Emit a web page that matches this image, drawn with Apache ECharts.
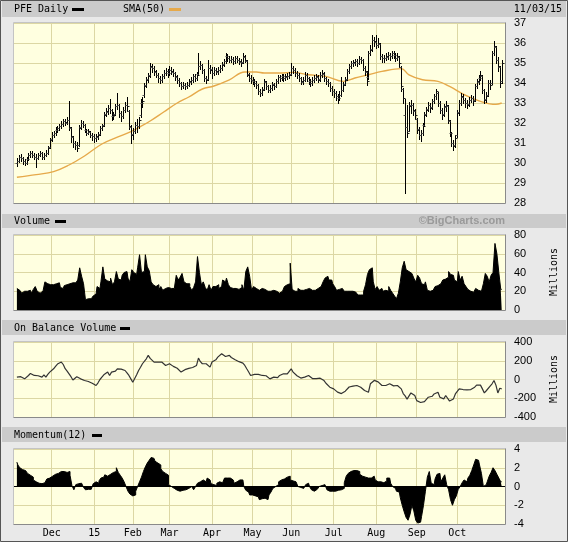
<!DOCTYPE html>
<html><head><meta charset="utf-8">
<script src="https://cdn.jsdelivr.net/npm/echarts@6/dist/echarts.min.js"></script>
<style>html,body{margin:0;padding:0;background:#e9e9e9}#c{width:568px;height:542px}</style>
</head><body><div id="c"></div>
<script>
// trading-day index 0 = 11/04/14 ... 251 = 11/03/15
const monthStarts = [18,40,60,79,101,122,142,164,186,207,228];
const monthLabels = ['Dec','15','Feb','Mar','Apr','May','Jun','Jul','Aug','Sep','Oct'];
const priceTicks = [28,37,1];
const volumeTicks = [0,80,20];
const obvTicks = [-400,400,200];
const momTicks = [-4,4,2];

const openP = [
30.00,30.10,30.30,30.25,30.10,30.00,30.20,30.40,30.50,30.40,30.30,30.25,30.40,30.50,30.30,30.40,30.50,30.80,
31.20,31.40,31.50,31.65,31.75,31.85,31.95,32.10,32.00,32.15,31.75,31.30,31.00,30.90,30.90,31.80,32.00,31.90,31.65,31.50,31.55,31.40,
31.35,31.25,31.30,31.45,31.75,31.90,32.45,32.55,32.75,32.65,32.35,32.45,32.85,32.90,32.50,32.35,32.65,32.90,32.60,31.80,
31.45,31.60,31.90,31.85,32.40,33.00,33.40,33.90,34.20,34.40,34.80,34.75,34.55,34.40,34.25,34.15,34.35,34.50,34.60,
34.50,34.65,34.55,34.50,34.30,34.15,34.00,33.85,33.90,33.85,33.90,34.05,34.15,34.35,34.25,34.45,34.85,34.90,34.65,34.25,34.20,34.75,
34.70,34.50,34.65,34.55,34.65,34.75,34.95,35.10,35.35,35.25,35.15,35.20,35.10,35.25,35.15,35.05,35.05,35.30,35.10,34.45,34.25,
34.15,34.10,34.00,33.90,33.60,33.50,33.70,34.05,33.85,33.65,33.75,33.95,33.85,34.10,34.30,34.25,34.35,34.25,34.30,34.35,
34.45,34.75,34.65,34.50,34.40,34.25,34.05,34.15,34.40,34.25,34.10,34.00,34.15,34.25,34.30,34.20,34.40,34.45,34.25,34.10,34.00,33.75,
33.60,33.50,33.35,33.25,33.40,33.65,33.95,34.20,34.60,34.85,35.00,35.00,35.10,35.00,35.20,35.15,34.75,34.55,34.30,35.50,35.70,36.15,
36.05,35.90,35.95,35.35,35.25,35.25,35.30,35.40,35.35,35.50,35.40,35.25,35.30,34.80,33.70,32.40,31.80,31.60,32.90,32.90,32.60,
32.20,31.70,31.40,31.50,31.90,32.45,32.70,32.90,32.80,33.10,33.35,33.50,33.00,32.65,32.45,32.80,32.85,32.10,31.50,31.00,30.90,
31.40,32.55,33.00,33.30,33.15,33.00,32.95,33.15,33.25,33.15,33.85,34.05,34.25,34.35,33.65,33.20,33.40,34.00,34.00,35.50,35.80,35.15,34.80,34.10];
const highP = [
30.25,30.40,30.45,30.30,30.20,30.30,30.50,30.60,30.60,30.50,30.45,30.50,30.60,30.55,30.50,30.65,30.85,31.25,
31.55,31.60,31.80,31.85,31.95,32.10,32.20,32.20,32.30,33.10,31.80,31.35,31.10,31.05,31.90,32.15,32.10,31.95,31.70,31.70,31.60,31.50,
31.45,31.45,31.55,31.85,31.95,32.55,32.75,32.90,33.20,32.70,32.55,32.95,33.50,32.95,32.60,32.80,33.05,33.30,32.65,31.90,
31.75,32.05,32.20,32.30,33.20,33.30,34.00,34.30,34.50,35.00,34.95,34.85,34.65,34.50,34.35,34.45,34.65,34.75,34.70,
34.85,34.80,34.70,34.55,34.40,34.25,34.05,34.05,34.00,34.05,34.20,34.30,34.45,34.45,34.55,35.50,35.10,34.95,34.70,34.35,35.15,34.90,
34.80,34.80,34.75,34.80,34.90,35.05,35.20,35.50,35.45,35.35,35.35,35.30,35.35,35.35,35.25,35.20,35.50,35.40,35.15,34.50,34.40,
34.30,34.20,34.10,33.95,33.70,33.80,34.20,34.10,33.90,33.90,34.05,34.00,34.20,34.40,34.40,34.45,34.45,34.45,34.50,34.55,
35.00,34.85,34.75,34.60,34.50,34.30,34.30,34.55,34.50,34.30,34.20,34.30,34.40,34.45,34.40,34.55,34.65,34.55,34.30,34.20,34.05,33.85,
33.70,33.60,33.45,33.60,34.30,34.05,34.30,34.70,34.95,35.10,35.15,35.20,35.20,35.35,35.30,35.20,34.85,34.60,35.60,35.90,36.40,36.30,
36.40,36.25,36.00,35.45,35.40,35.50,35.55,35.50,35.60,35.60,35.50,35.50,35.35,34.85,33.75,33.20,32.90,33.05,33.15,33.00,32.70,
32.25,31.80,31.65,32.00,32.55,32.80,33.05,33.00,33.20,33.45,33.70,33.55,33.10,32.75,32.95,33.10,32.90,32.15,31.55,31.15,31.40,
32.65,33.15,33.50,33.45,33.25,33.15,33.30,33.40,33.35,33.95,34.20,34.40,34.60,34.40,33.70,33.55,34.15,34.15,35.60,36.10,35.85,35.30,34.85,35.15];
const lowP = [
29.85,30.05,30.10,29.95,29.90,29.95,30.15,30.30,30.30,30.20,29.80,30.20,30.35,30.20,30.20,30.35,30.45,30.75,
31.10,31.30,31.40,31.55,31.65,31.75,31.85,31.90,31.95,31.65,31.05,30.80,30.70,30.60,30.85,31.70,31.80,31.55,31.40,31.45,31.30,31.15,
31.05,31.10,31.20,31.40,31.65,31.85,32.35,32.45,32.50,32.15,32.20,32.40,32.70,32.30,32.10,32.25,32.55,32.60,31.70,31.00,
31.20,31.50,31.55,31.75,32.30,32.80,33.30,33.80,34.05,34.30,34.55,34.40,34.30,34.05,34.00,34.05,34.25,34.40,34.30,
34.40,34.45,34.35,34.15,34.00,33.85,33.70,33.75,33.70,33.75,33.85,33.95,34.05,34.10,34.15,34.40,34.70,34.50,34.10,34.00,34.15,34.50,
34.25,34.40,34.45,34.45,34.55,34.65,34.85,35.00,35.10,35.05,35.05,34.95,35.00,35.05,34.95,34.85,35.00,35.05,34.35,34.10,34.00,
33.95,33.85,33.75,33.45,33.35,33.40,33.65,33.70,33.55,33.55,33.65,33.70,33.80,34.00,34.10,34.15,34.10,34.15,34.20,34.25,
34.40,34.50,34.35,34.25,34.10,33.95,33.95,34.10,34.10,33.95,33.85,33.90,34.05,34.15,34.05,34.10,34.30,34.10,33.95,33.85,33.60,33.40,
33.30,33.15,33.00,33.15,33.35,33.60,33.90,34.15,34.50,34.75,34.85,34.90,34.85,34.95,35.00,34.65,34.40,33.90,34.20,35.40,35.60,35.85,
35.75,35.80,35.20,35.05,35.05,35.15,35.20,35.15,35.25,35.25,35.10,35.15,34.80,33.60,33.00,28.50,31.30,31.60,32.50,32.40,32.20,
31.50,31.20,31.10,31.40,31.85,32.35,32.60,32.55,32.70,33.00,33.20,32.85,32.50,32.20,32.35,32.60,32.00,31.35,30.85,30.65,30.80,
31.30,32.40,32.90,33.00,32.80,32.75,32.85,33.05,32.90,33.10,33.75,33.95,34.15,33.50,33.00,33.05,33.35,33.70,33.95,35.40,35.00,34.60,33.80,34.00];
const closeP = [
30.10,30.30,30.25,30.10,30.00,30.20,30.40,30.50,30.40,30.30,30.25,30.40,30.50,30.30,30.40,30.50,30.75,31.15,
31.42,31.50,31.67,31.75,31.83,31.97,32.08,32.03,32.17,31.80,31.33,31.00,30.92,30.75,31.75,32.00,31.92,31.67,31.50,31.58,31.42,31.33,
31.25,31.33,31.42,31.75,31.83,32.42,32.58,32.75,32.67,32.33,32.42,32.83,32.92,32.50,32.33,32.67,32.92,32.83,31.83,31.42,
31.58,31.92,31.83,32.17,33.00,33.08,33.83,34.17,34.33,34.83,34.75,34.58,34.42,34.25,34.17,34.33,34.50,34.58,34.50,
34.67,34.58,34.50,34.33,34.17,34.00,33.83,33.92,33.83,33.92,34.08,34.17,34.33,34.25,34.42,34.83,34.92,34.67,34.25,34.17,34.75,34.67,
34.50,34.67,34.58,34.67,34.75,34.92,35.08,35.33,35.25,35.17,35.20,35.08,35.25,35.17,35.08,35.00,35.33,35.17,34.42,34.25,34.17,
34.08,34.00,33.92,33.58,33.50,33.67,34.08,33.83,33.67,33.75,33.92,33.83,34.08,34.30,34.25,34.33,34.25,34.33,34.37,34.42,
34.75,34.67,34.50,34.42,34.25,34.08,34.17,34.42,34.25,34.08,34.00,34.17,34.25,34.33,34.17,34.42,34.50,34.25,34.08,34.00,33.75,33.58,
33.50,33.33,33.25,33.42,33.67,33.92,34.17,34.58,34.83,35.00,35.03,35.08,35.00,35.20,35.17,34.75,34.58,34.08,35.50,35.67,36.17,36.08,
35.92,36.00,35.33,35.25,35.25,35.33,35.42,35.33,35.50,35.42,35.25,35.33,35.00,33.83,33.25,31.80,31.50,32.83,32.92,32.67,32.42,
31.67,31.42,31.50,31.83,32.42,32.67,32.92,32.75,33.08,33.33,33.58,33.00,32.67,32.42,32.83,32.92,32.17,31.50,31.00,30.83,31.25,
32.50,33.00,33.33,33.17,33.00,32.92,33.17,33.25,33.08,33.83,34.08,34.25,34.42,33.67,33.17,33.33,34.00,33.92,35.50,35.83,35.17,34.83,34.00,35.00];
// SMA(50) read at [dayIndex, value]
const sma50 = [[0,29.29],[10,29.42],[19,29.57],[27,29.9],[35,30.35],[44,30.95],[52,31.29],[59,31.57],[64,31.82],[69,32.1],[76,32.55],[83,33.0],[89,33.3],[96,33.7],[102,33.85],[110,34.16],[118,34.55],[124,34.55],[128,34.5],[136,34.5],[143,34.53],[151,34.41],[160,34.33],[169,34.08],[175,34.25],[182,34.41],[189,34.58],[199,34.72],[203,34.41],[210,34.16],[218,34.08],[224,33.83],[232,33.4],[240,33.08],[248,32.93],[251,33.0]];
const volume = [
23,21,19,18,20,20,21,21,18,22,25,20,18,20,22,30,28,27,
27,27,28,30,29,24,23,26,27,28,28,29,29,30,32,45,36,28,11,12,12,14,
15,17,25,23,30,46,33,31,30,34,27,30,41,33,32,37,40,41,34,30,
43,40,38,45,59,40,41,59,46,42,30,27,25,27,22,25,21,23,24,
23,23,23,24,37,32,35,39,30,28,28,25,21,24,30,57,40,27,30,24,21,27,
21,25,25,27,23,25,32,30,34,27,24,23,23,21,22,24,27,21,41,46,36,
21,25,23,21,22,23,22,21,20,20,21,21,20,19,18,20,22,25,27,28,
50,22,20,20,23,21,21,21,22,23,22,21,21,21,23,25,25,30,34,36,32,32,
28,25,21,22,23,21,20,20,20,20,20,19,18,16,16,16,20,27,38,43,45,30,
22,25,21,23,20,21,20,25,21,18,15,12,18,30,45,52,43,41,39,37,34,
30,37,34,28,27,30,21,20,21,23,25,26,28,30,32,33,35,41,38,37,32,
30,41,32,36,28,25,22,20,19,18,23,21,20,22,28,39,36,30,37,40,71,60,40,22];
const obv = [
25,40,30,25,7,25,43,65,60,43,36,40,43,25,50,25,55,79,
100,114,140,165,180,186,160,115,90,60,30,-5,7,30,50,7,-5,-11,-20,-21,-28,-40,
-46,-64,-35,0,25,50,65,79,43,79,61,90,114,96,110,114,96,70,43,7,
-29,10,50,96,130,168,150,221,257,225,210,186,204,185,168,186,168,150,160,
168,150,140,132,120,114,79,96,105,114,118,121,128,132,150,229,190,168,186,168,150,132,
186,200,210,239,250,275,257,245,239,257,235,221,210,204,190,186,175,150,114,80,43,
55,55,43,55,61,43,55,40,25,7,20,25,7,20,43,55,61,43,60,71,
114,79,61,40,30,15,7,25,35,43,25,10,14,10,0,14,5,-11,-40,-60,-82,-90,
-100,-118,-135,-154,-150,-143,-125,-118,-80,-64,-71,-68,-64,-70,-82,-100,-118,-130,-136,-46,-29,-10,
7,-25,-45,-64,-46,-64,-55,-46,-64,-68,-71,-64,-70,-100,-150,-175,-210,-225,-143,-129,-171,
-225,-236,-245,-230,-236,-215,-189,-185,-179,-154,-145,-136,-189,-200,-207,-171,-185,-230,-250,-207,-154,
-136,-100,-82,-107,-93,-110,-118,-107,-95,-82,-60,-46,-60,-100,-143,-120,-100,-70,-46,-11,-60,-143,-93,-100];
const momentum = [
2.6,2.3,2.0,1.8,1.7,1.6,1.4,1.2,1.0,0.7,0.5,0.35,0.3,0.3,0.4,0.5,0.8,0.9,
1.1,1.25,1.3,1.4,1.5,1.6,1.6,1.6,1.5,1.6,1.2,0.1,-0.35,0.2,0.3,0.35,0.5,-0.1,-0.35,-0.3,-0.3,-0.1,
0.3,0.5,0.35,0.6,0.9,1.0,1.25,1.1,1.3,1.4,1.5,1.6,2.0,1.5,1.2,0.9,0.5,0.0,-0.5,-0.8,
-1.0,-0.9,-0.5,0.0,0.5,1.0,1.6,2.1,2.5,2.8,3.1,3.0,2.7,2.5,2.3,1.9,1.6,1.4,1.2,
0.2,0.0,-0.2,-0.3,-0.4,-0.5,-0.5,-0.4,-0.35,-0.2,-0.2,0.0,-0.1,-0.35,0.0,0.35,0.5,0.7,0.6,0.5,0.9,0.7,
0.3,0.2,0.1,0.35,0.5,0.4,0.2,0.9,0.9,0.9,0.8,0.7,0.35,0.5,0.7,0.7,0.7,0.0,-0.4,-0.6,-0.9,
-0.9,-1.0,-1.0,-1.1,-1.4,-1.3,-1.25,-1.3,-1.4,-0.9,-0.6,-0.2,0.0,0.2,0.5,0.7,0.8,0.9,1.0,1.1,
0.7,0.6,0.5,0.3,0.0,-0.1,-0.2,-0.1,0.2,0.35,0.0,-0.35,-0.5,-0.3,-0.2,0.0,0.1,0.2,0.0,-0.35,-0.5,-0.5,
-0.5,-0.5,-0.4,-0.35,-0.35,-0.2,0.4,1.1,1.4,1.6,1.7,1.8,1.7,1.6,1.3,1.1,1.0,0.9,0.9,0.9,1.0,1.1,
0.7,0.5,0.5,0.5,0.4,0.6,0.9,0.9,0.35,0.0,-0.2,-0.5,-0.6,-1.2,-2.0,-2.7,-3.3,-3.6,-3.0,-2.0,-2.6,
-3.6,-3.9,-3.8,-3.2,-2.0,-0.5,1.0,1.6,0.35,0.2,0.8,1.3,1.4,0.5,0.9,1.25,0.2,-0.35,-1.4,-2.0,-1.4,
-1.0,-0.3,0.0,0.4,0.7,0.5,0.9,1.2,1.7,2.3,2.9,2.8,2.3,1.4,0.0,0.2,0.5,1.1,1.5,2.0,1.7,1.3,0.9,0.5];

const GRID_COLOR = '#dcd7a4';
const PLOT_BG = '#ffffe0';
const MONO = '"DejaVu Sans Mono", monospace';
const SANS = '"Liberation Sans", Arial, sans-serif';
const grids = [
  {left:14, top:23, width:491, height:180},
  {left:14, top:235, width:491, height:75},
  {left:14, top:342, width:491, height:75},
  {left:14, top:449, width:491, height:75}
];
const yTicks = [priceTicks, volumeTicks, obvTicks, momTicks];

const chart = echarts.init(document.getElementById('c'), null, {renderer:'canvas'});

function renderOHLC(params, api) {
  const i = api.value(0);
  const pO = api.coord([i, api.value(1)]);
  const pH = api.coord([i, api.value(2)]);
  const pL = api.coord([i, api.value(3)]);
  const pC = api.coord([i, api.value(4)]);
  const x = Math.round(pH[0]) + 0.5;
  const yo = Math.round(pO[1]) + 0.5, yc = Math.round(pC[1]) + 0.5;
  return {type:'group', children:[
    {type:'line', shape:{x1:x, y1:Math.round(pH[1]), x2:x, y2:Math.round(pL[1])+1}, style:{stroke:'#000', lineWidth:1}},
    {type:'line', shape:{x1:x-2, y1:yo, x2:x, y2:yo}, style:{stroke:'#555', lineWidth:1}},
    {type:'line', shape:{x1:x, y1:yc, x2:x+2, y2:yc}, style:{stroke:'#222', lineWidth:1}}
  ]};
}

function frame(g) {
  const x0 = g.left - 0.5, y0 = g.top - 0.5, x1 = g.left + g.width + 0.5, y1 = g.top + g.height + 0.5;
  return [
    {type:'polyline', shape:{points:[[x0,y1],[x0,y0],[x1,y0]]}, style:{stroke:'#c4c4c4', fill:null, lineWidth:1}, silent:true, z:50},
    {type:'polyline', shape:{points:[[x0,y1],[x1,y1],[x1,y0]]}, style:{stroke:'#8a8a8a', fill:null, lineWidth:1}, silent:true, z:50}
  ];
}

const bands = [[1,16],[214,14],[320,15],[427,15]];
const graphic = [];
bands.forEach(b => graphic.push({type:'rect', shape:{x:2, y:b[0], width:564, height:b[1]}, style:{fill:'#cbcbcb'}, silent:true, z:-10}));
grids.forEach(g => frame(g).forEach(e => graphic.push(e)));
function txt(t, x, y, font, fill, align, rot) {
  const o = {type:'text', x:x, y:y, style:{text:t, x:0, y:0, font:font, fill:fill||'#000', textAlign:align||'left', textVerticalAlign:'middle'}, silent:true};
  if (rot) o.rotation = rot;
  return o;
}
function sw(x, y, w, color) { return {type:'rect', shape:{x:x, y:y, width:w, height:3}, style:{fill:color}, silent:true}; }
graphic.push(txt('PFE Daily', 14, 9, '10px ' + MONO));
graphic.push(sw(72, 8, 12, '#000'));
graphic.push(txt('SMA(50)', 123, 9, '10px ' + MONO));
graphic.push(sw(169, 8, 12, '#e6a94a'));
graphic.push(txt('11/03/15', 562, 9, '10px ' + MONO, '#000', 'right'));
graphic.push(txt('Volume', 14, 221, '10px ' + MONO));
graphic.push(sw(55, 220, 11, '#000'));
graphic.push(txt('\u00a9BigCharts.com', 505, 221, 'bold 11px ' + SANS, '#9a9a9a', 'right'));
graphic.push(txt('On Balance Volume', 14, 328, '10px ' + MONO));
graphic.push(sw(120, 327, 10, '#000'));
graphic.push(txt('Momentum(12)', 14, 435, '10px ' + MONO));
graphic.push(sw(92, 434, 10, '#000'));
graphic.push(txt('Millions', 554, 272, '10px ' + MONO, '#000', 'center', Math.PI/2));
graphic.push(txt('Millions', 554, 379, '10px ' + MONO, '#000', 'center', Math.PI/2));
graphic.push({type:'rect', shape:{x:0.5, y:0.5, width:567, height:541}, style:{fill:null, stroke:'#555', lineWidth:1}, silent:true, z:100});

const option = {
  animation:false,
  backgroundColor:'#e9e9e9',
  graphic: graphic,
  grid: grids.map(g => Object.assign({show:true, backgroundColor:PLOT_BG, borderWidth:0}, g)),
  xAxis: grids.map((g, k) => ({
    type:'value', gridIndex:k, min:-1.5, max:252.7,
    axisLine:{show:false},
    axisTick:{show:false, customValues:monthStarts},
    splitLine:{show:true, lineStyle:{color:GRID_COLOR, width:1}},
    axisLabel:{show:k===3, customValues:monthStarts, margin:4,
      formatter: v => monthLabels[monthStarts.indexOf(Math.round(v))] || '',
      fontFamily:'DejaVu Sans Mono', fontSize:10, color:'#000'}
  })),
  yAxis: grids.map((g, k) => ({
    type:'value', gridIndex:k, position:'right',
    min:yTicks[k][0], max:yTicks[k][1], interval:yTicks[k][2],
    axisLine:{show:false}, axisTick:{show:false},
    splitLine:{show:true, lineStyle:{color:GRID_COLOR, width:1}},
    axisLabel:{margin:9, fontFamily:'Liberation Sans', fontSize:11, color:'#000'}
  })),
  series: [
    {type:'line', name:'SMA(50)', xAxisIndex:0, yAxisIndex:0, data:sma50, smooth:0.4, showSymbol:false,
     lineStyle:{color:'#e6a94a', width:1.4}, z:2},
    {type:'custom', name:'PFE', xAxisIndex:0, yAxisIndex:0, renderItem:renderOHLC,
     data: closeP.map((c, i) => [i, openP[i], highP[i], lowP[i], c]), encode:{x:0, y:[1,2,3,4]}, z:3},
    {type:'line', name:'Volume', xAxisIndex:1, yAxisIndex:1, data: volume.map((v, i) => [i, v]),
     step:'middle', showSymbol:false, lineStyle:{color:'#000', width:1}, areaStyle:{color:'#000', opacity:1}},
    {type:'line', name:'OBV', xAxisIndex:2, yAxisIndex:2, data: obv.map((v, i) => [i, v]), showSymbol:false,
     lineStyle:{color:'#333', width:1.2}},
    {type:'line', name:'Momentum', xAxisIndex:3, yAxisIndex:3, data: momentum.map((v, i) => [i, v]),
     step:'middle', showSymbol:false, lineStyle:{color:'#000', width:1}, areaStyle:{color:'#000', opacity:1, origin:0},
     markLine:{silent:true, symbol:'none', label:{show:false}, lineStyle:{color:'#000', width:1, type:'solid'}, data:[{yAxis:0}]}}
  ]
};
chart.setOption(option);
</script></body></html>
